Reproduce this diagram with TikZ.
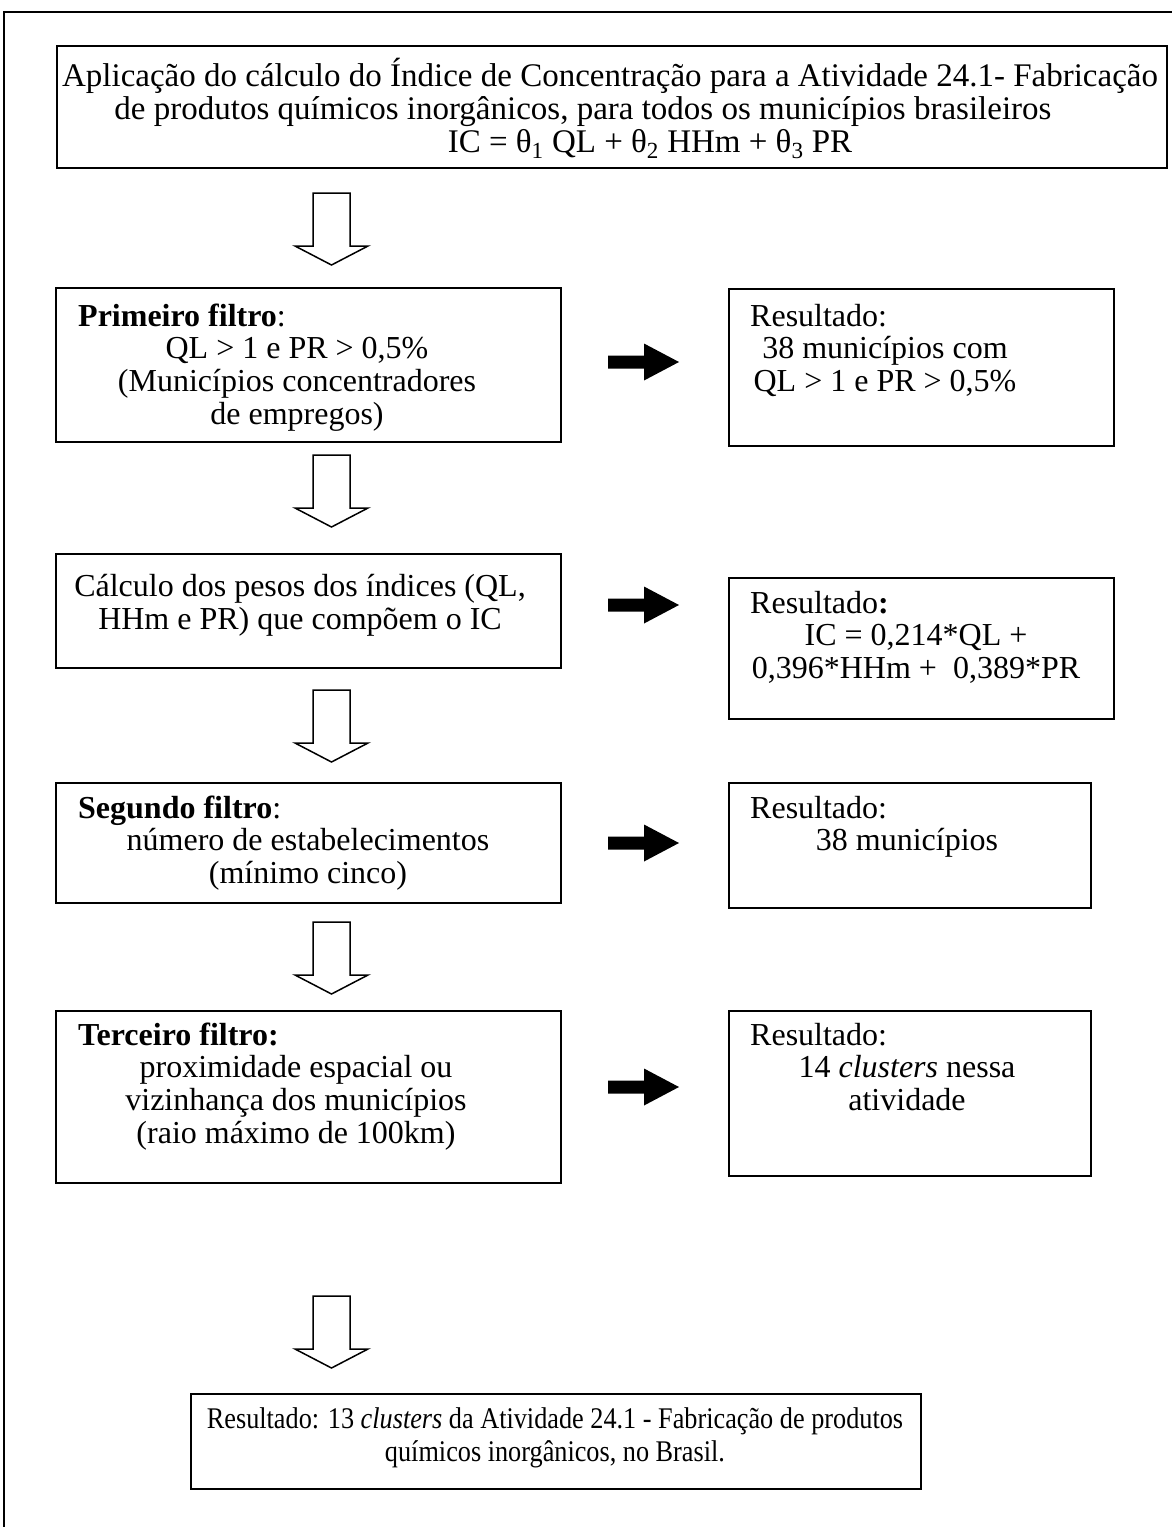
\documentclass[tikz,border=0pt]{standalone}
\usepackage{fontspec}
\setmainfont{Liberation Serif}
\newfontfamily\condfont[FakeStretch=0.875]{Liberation Serif}
\newcommand{\fs}{\fontsize{32}{33}\selectfont}
\newcommand{\fst}{\rule{0pt}{29pt}}
\begin{document}
\begin{tikzpicture}[x=1pt,y=-1pt,
  box/.style={draw, line width=1.8pt, inner sep=0pt, anchor=north west},
  body/.style={anchor=north, inner sep=0pt, align=center, font=\fs},
  hdr/.style={anchor=base west, inner sep=0pt, font=\fs},
  hollow/.style={draw, line width=1.5pt, fill=white, line join=miter},
  solidarrow/.style={fill=black, draw=none}
]
\clip (0,0) rectangle (1172,1527);
\path[use as bounding box] (0,0) rectangle (1172,1527);
% outer frame
\draw[line width=1.8pt] (4,1560) -- (4,12) -- (1200,12);

% top box
\node[box, minimum width=1110pt, minimum height=122pt] (top) at (56,45) {};
\node[body, font=\fontsize{33}{33}\selectfont] (toptxt) at (610,57) {\fst Aplica\c{c}\~ao do c\'alculo do \'Indice de Concentra\c{c}\~ao para a Atividade 24.1- Fabrica\c{c}\~ao\\
de produtos qu\'imicos inorg\^anicos, para todos os munic\'ipios brasileiros\hspace*{54pt}\mbox{}\\
\mbox{}\hspace*{80pt}IC = θ\textsubscript{1} QL + θ\textsubscript{2} HHm + θ\textsubscript{3} PR};

% row 1
\node[box, minimum width=505pt, minimum height=154pt] (p1) at (55,287) {};
\node[hdr] (p1h) at (78,326) {\textbf{Primeiro filtro}:};
\node[body] (p1t) at (297,329) {\fst QL > 1 e PR > 0,5\%\\(Munic\'ipios concentradores\\de empregos)};
\node[box, minimum width=385pt, minimum height=157pt] (r1) at (728,288) {};
\node[hdr] (r1h) at (750,326) {Resultado:};
\node[body] (r1t) at (885,329) {\fst 38 munic\'ipios com\\QL > 1 e PR > 0,5\%};

% row 2
\node[box, minimum width=505pt, minimum height=114pt] (c) at (55,553) {};
\node[body] (ct) at (300,567) {\fst C\'alculo dos pesos dos \'indices (QL,\\HHm e PR) que comp\~oem o IC};
\node[box, minimum width=385pt, minimum height=141pt] (r2) at (728,577) {};
\node[hdr] (r2h) at (750,613) {Resultado\textbf{:}};
\node[body] (r2t) at (916,616) {\fst IC = 0,214*QL +\\0,396*HHm +\ \ 0,389*PR};

% row 3
\node[box, minimum width=505pt, minimum height=120pt] (s) at (55,782) {};
\node[hdr] (sh) at (78,818) {\textbf{Segundo filtro}:};
\node[body] (st) at (308,821) {\fst n\'umero de estabelecimentos\\(m\'inimo cinco)};
\node[box, minimum width=362pt, minimum height=125pt] (r3) at (728,782) {};
\node[hdr] (r3h) at (750,818) {Resultado:};
\node[body] (r3t) at (907,821) {\fst 38 munic\'ipios};

% row 4
\node[box, minimum width=505pt, minimum height=172pt] (te) at (55,1010) {};
\node[hdr] (teh) at (78,1045) {\textbf{Terceiro filtro:}};
\node[body] (tet) at (296,1048) {\fst proximidade espacial ou\\vizinhan\c{c}a dos munic\'ipios\\(raio m\'aximo de 100km)};
\node[box, minimum width=362pt, minimum height=165pt] (r4) at (728,1010) {};
\node[hdr] (r4h) at (750,1045) {Resultado:};
\node[body] (r4t) at (907,1048) {\fst 14 \textit{clusters} nessa\\atividade};

% bottom box
\node[box, minimum width=730pt, minimum height=95pt] (bot) at (190,1393) {};
\node[body, font=\condfont\fontsize{30}{33}\selectfont] (bott) at (555,1399) {\fst Resultado: 13 \textit{clusters} da Atividade 24.1 - Fabrica\c{c}\~ao de produtos\\qu\'imicos inorg\^anicos, no Brasil.};

% hollow down arrows
\foreach \n/\yt in {a1/193, a2/455, a3/690, a4/922, a5/1296}{
  \coordinate (\n) at (331.5,\yt);
  \draw[hollow] (\n) ++(-18.5,0) -- ++(37,0) -- ++(0,53) -- ++(18,0) -- ++(-36.5,19) -- ++(-36.5,-19) -- ++(18,0) -- cycle;
}

% solid right arrows
\foreach \n/\yc in {k1/362, k2/605, k3/843, k4/1087}{
  \coordinate (\n) at (608,\yc);
  \fill[solidarrow] (\n) ++(0,-6.5) -- ++(36,0) -- ++(0,-12) -- ++(35,18.5) -- ++(-35,18.5) -- ++(0,-12) -- ++(-36,0) -- cycle;
}
\end{tikzpicture}
\end{document}
